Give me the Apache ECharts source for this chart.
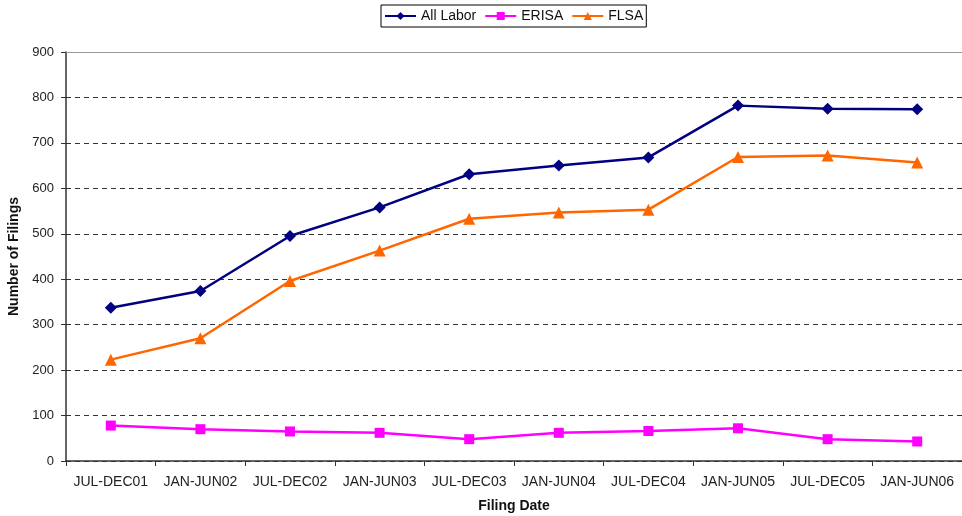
<!DOCTYPE html>
<html>
<head>
<meta charset="utf-8">
<script src="https://cdn.jsdelivr.net/npm/echarts@6/dist/echarts.min.js"></script>
<style>
  html, body { margin: 0; padding: 0; background: #fff; }
  #chart { width: 962px; height: 516px; }
</style>
</head>
<body>
<div id="chart"></div>
<script>
  var categories = ['JUL-DEC01', 'JAN-JUN02', 'JUL-DEC02', 'JAN-JUN03', 'JUL-DEC03',
    'JAN-JUN04', 'JUL-DEC04', 'JAN-JUN05', 'JUL-DEC05', 'JAN-JUN06'];
  var allLabor = [337, 374, 495, 558, 631, 650, 668, 782, 775, 774];
  var erisa = [78, 70, 65, 62, 48, 62, 66, 72, 48, 43];
  var flsa = [223, 270, 396, 463, 533, 547, 553, 669, 672, 657];
  var yTicks = [0, 100, 200, 300, 400, 500, 600, 700, 800, 900];

  var font = 'Liberation Sans, Arial, sans-serif';
  var chart = echarts.init(document.getElementById('chart'));

  function line(name, data, color, symbol, size) {
    return {
      name: name,
      type: 'line',
      data: data,
      symbol: symbol,
      symbolSize: size,
      lineStyle: { color: color, width: 2.5 },
      itemStyle: { color: color },
      emphasis: { disabled: true },
      animation: false
    };
  }

  chart.setOption({
    backgroundColor: '#fff',
    textStyle: { fontFamily: font },
    legend: {
      top: 5,
      left: 381,
      data: ['All Labor', 'ERISA', 'FLSA'],
      borderColor: '#000',
      borderWidth: 1,
      padding: [4, 3],
      itemGap: 8,
      itemWidth: 31,
      itemHeight: 10,
      textStyle: { fontSize: 14, color: '#111', fontFamily: font }
    },
    grid: { left: 66, right: 0, top: 52, bottom: 55, outerBoundsMode: 'none', containLabel: false },
    xAxis: [{
      type: 'category',
      data: categories,
      boundaryGap: true,
      name: 'Filing Date',
      nameLocation: 'middle',
      nameGap: 38,
      nameTextStyle: { fontWeight: 'bold', fontSize: 14, color: '#111', fontFamily: font },
      axisLine: { lineStyle: { color: '#333', width: 1.5 } },
      axisTick: { show: true, alignWithLabel: false, length: 5, lineStyle: { color: '#333' } },
      axisLabel: { fontSize: 14, color: '#222', margin: 14, interval: 0 },
      splitLine: { show: false }
    }, {
      type: 'category',
      data: categories,
      position: 'top',
      axisLine: { show: true, lineStyle: { color: '#999', width: 1 } },
      axisTick: { show: false },
      axisLabel: { show: false },
      splitLine: { show: false }
    }],
    yAxis: {
      type: 'value',
      min: yTicks[0],
      max: yTicks[yTicks.length - 1],
      interval: 100,
      name: 'Number of Filings',
      nameLocation: 'middle',
      nameGap: 42,
      nameTextStyle: { fontWeight: 'bold', fontSize: 14, color: '#111', fontFamily: font },
      axisLine: { show: true, lineStyle: { color: '#333', width: 1.5 } },
      axisTick: { show: true, length: 5, lineStyle: { color: '#333' } },
      axisLabel: { fontSize: 13, color: '#222', margin: 12 },
      splitLine: { show: true, lineStyle: { color: '#333', type: [5, 4], width: 1 } }
    },
    series: [
      line('All Labor', allLabor, '#000080', 'diamond', 12),
      line('ERISA', erisa, '#FF00FF', 'rect', 10),
      line('FLSA', flsa, '#FF6600', 'triangle', 12)
    ]
  });
</script>
</body>
</html>
